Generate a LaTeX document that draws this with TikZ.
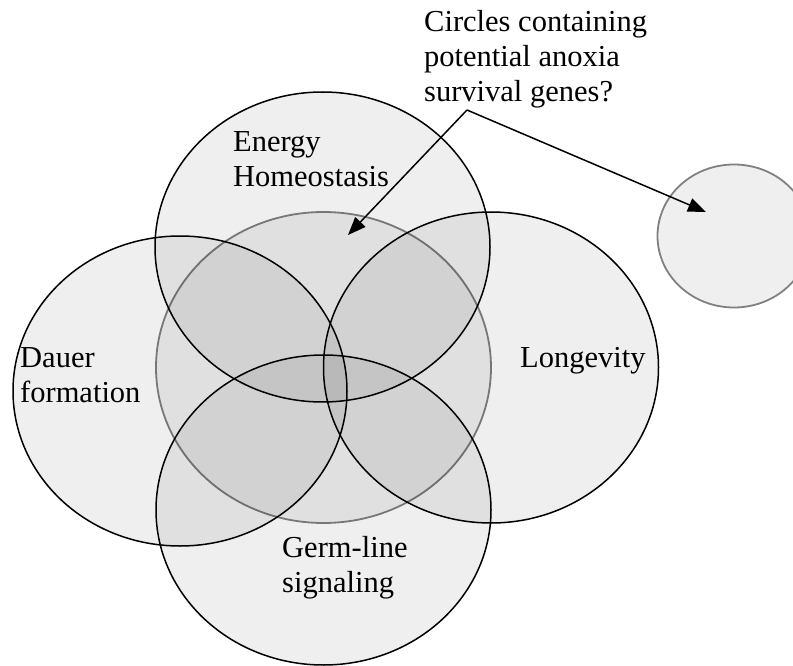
\documentclass[tikz,border=0pt]{standalone}
\usepackage{fontspec}
\setmainfont{Liberation Serif}
\usetikzlibrary{arrows.meta}
\begin{document}
\begin{tikzpicture}[x=1pt,y=-1pt,
  venn/.style={fill=black,fill opacity=0.062,draw=black,line width=1.5pt},
  venngray/.style={fill=black,fill opacity=0.062,draw=black!50,line width=1.8pt},
  lbl/.style={inner sep=0pt,anchor=base west,font=\fontsize{30.5}{35}\selectfont},
  pointer/.style={line width=1.5pt,-{Triangle[length=18pt,width=14pt]}}]
\clip (0,0) rectangle (793,666);
% sets
\draw[venngray] (323.5,367.5) ellipse [x radius=167.5, y radius=155.5];
\draw[venn] (322.5,247) ellipse [x radius=167.5, y radius=155];
\draw[venn] (180,391) ellipse [x radius=167, y radius=155];
\draw[venn] (491,367.5) ellipse [x radius=167.5, y radius=155.5];
\draw[venn] (323.5,510) ellipse [x radius=167.5, y radius=155];
\draw[venngray] (734,236) ellipse [x radius=76.5, y radius=71.5];
% labels
\node[lbl] (energy) at (233,152) {\begin{tabular}[t]{@{}l@{}}Energy\\Homeostasis\end{tabular}};
\node[lbl] (dauer) at (20,367) {\begin{tabular}[t]{@{}l@{}}Dauer\\formation\end{tabular}};
\node[lbl] (longevity) at (520,367) {Longevity};
\node[lbl] (germ) at (282,557) {\begin{tabular}[t]{@{}l@{}}Germ-line\\signaling\end{tabular}};
\node[lbl] (question) at (424,32) {\begin{tabular}[t]{@{}l@{}}Circles containing\\potential anoxia\\survival genes?\end{tabular}};
% pointers
\coordinate (v) at (467,110);
\coordinate (t1) at (348,235);
\coordinate (t2) at (706,212);
\draw[pointer] (v) -- (t1);
\draw[pointer] (v) -- (t2);
\end{tikzpicture}
\end{document}
